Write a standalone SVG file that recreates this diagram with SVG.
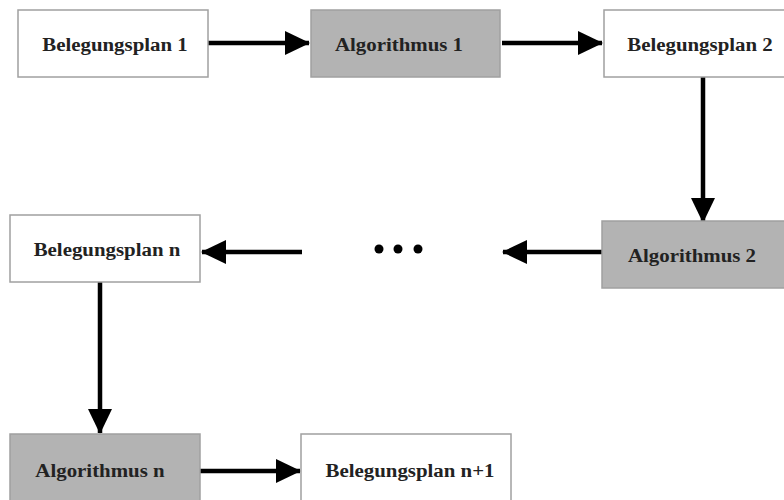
<svg xmlns="http://www.w3.org/2000/svg" width="784" height="500" viewBox="0 0 784 500">
<style>
.box{stroke:#a0a0a0;stroke-width:1.5}
.plan{fill:#ffffff}
.algo{fill:#b3b3b3}
.t{font-family:"Liberation Serif","Times New Roman",serif;font-weight:bold;font-size:18px;fill:#222;text-anchor:middle}
.c{stroke:#000;stroke-width:4.5;fill:none;marker-end:url(#ah)}
</style>
<defs>
<marker id="ah" markerUnits="userSpaceOnUse" markerWidth="26" markerHeight="24" refX="24" refY="12" orient="auto">
<path d="M0,0 L25,12 L0,24 z" fill="#000"/>
</marker>
</defs>
<rect width="784" height="500" fill="#ffffff"/>
<g id="connectors">
<line class="c" x1="208" y1="43" x2="309" y2="43"/>
<line class="c" x1="502" y1="43" x2="602" y2="43"/>
<line class="c" x1="703" y1="77" x2="703" y2="222"/>
<line class="c" x1="602" y1="252" x2="503" y2="252"/>
<line class="c" x1="302" y1="252" x2="202" y2="252"/>
<line class="c" x1="100" y1="282" x2="100" y2="433"/>
<line class="c" x1="200" y1="471" x2="300" y2="471"/>
</g>
<g id="n1"><rect class="box plan" x="18" y="10" width="190" height="67"/><text class="t" transform="translate(115,51) scale(1.16,1)">Belegungsplan 1</text></g>
<g id="n2"><rect class="box algo" x="311" y="10" width="189" height="67"/><text class="t" transform="translate(399,51) scale(1.16,1)">Algorithmus 1</text></g>
<g id="n3"><rect class="box plan" x="604" y="10" width="182" height="67"/><text class="t" transform="translate(700,51) scale(1.16,1)">Belegungsplan 2</text></g>
<g id="n4"><rect class="box algo" x="602" y="221" width="184" height="67"/><text class="t" transform="translate(692,262) scale(1.16,1)">Algorithmus 2</text></g>
<g id="n5"><circle cx="379" cy="249" r="4.5" fill="#000"/><circle cx="398" cy="249" r="4.5" fill="#000"/><circle cx="418" cy="249" r="4.5" fill="#000"/></g>
<g id="n6"><rect class="box plan" x="10" y="215" width="190" height="67"/><text class="t" transform="translate(107,256) scale(1.16,1)">Belegungsplan n</text></g>
<g id="n7"><rect class="box algo" x="10" y="434" width="190" height="70"/><text class="t" transform="translate(100,477) scale(1.16,1)">Algorithmus n</text></g>
<g id="n8"><rect class="box plan" x="301" y="434" width="210" height="70"/><text class="t" transform="translate(410,477) scale(1.16,1)">Belegungsplan n+1</text></g>
</svg>
